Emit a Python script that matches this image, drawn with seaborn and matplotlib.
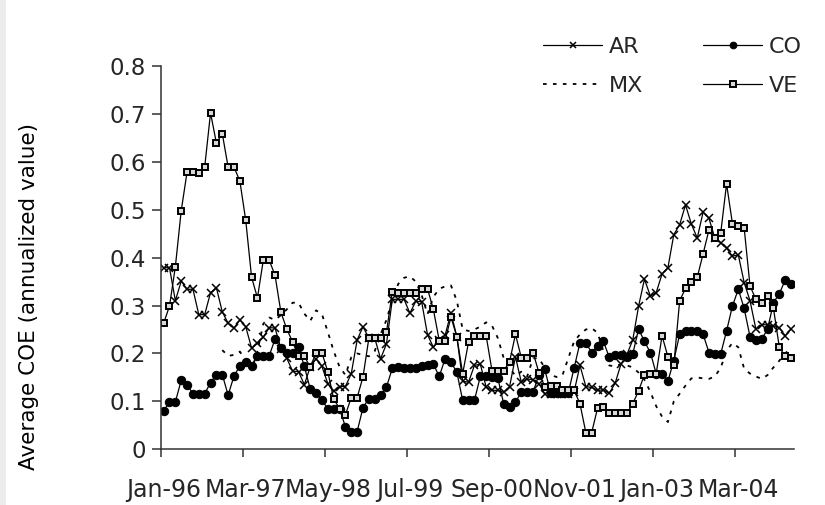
import numpy as np
import pandas as pd
import matplotlib
matplotlib.use("Agg")
import matplotlib.pyplot as plt
import seaborn as sns
from matplotlib.patches import Rectangle

# ---- data (monthly, Jan-96 .. Dec-04) ----
tick_labels = ["Jan-96", "Mar-97", "May-98", "Jul-99", "Sep-00", "Nov-01", "Jan-03", "Mar-04"]

AR = [0.379, 0.379, 0.310, 0.351, 0.334, 0.334, 0.281, 0.281, 0.327, 0.337,
      0.287, 0.263, 0.253, 0.270, 0.256, 0.211, 0.221, 0.234, 0.254, 0.253,
      0.210, 0.190, 0.163, 0.162, 0.135, 0.172, 0.189, 0.173, 0.137, 0.121,
      0.131, 0.131, 0.158, 0.228, 0.256, 0.232, 0.232, 0.189, 0.220, 0.313,
      0.313, 0.313, 0.284, 0.309, 0.308, 0.239, 0.213, 0.228, 0.238, 0.285,
      0.235, 0.142, 0.140, 0.175, 0.178, 0.130, 0.123, 0.123, 0.119, 0.131,
      0.193, 0.140, 0.147, 0.145, 0.137, 0.116, 0.116, 0.116, 0.116, 0.116,
      0.120, 0.175, 0.131, 0.129, 0.123, 0.124, 0.117, 0.138, 0.178, 0.198,
      0.228, 0.299, 0.355, 0.320, 0.327, 0.366, 0.379, 0.448, 0.469, 0.510,
      0.470, 0.441, 0.495, 0.482, 0.441, 0.431, 0.420, 0.403, 0.406, 0.348,
      0.310, 0.251, 0.260, 0.260, 0.258, 0.254, 0.237, 0.251]

CO = [0.080, 0.099, 0.099, 0.144, 0.135, 0.116, 0.116, 0.116, 0.139, 0.156,
      0.156, 0.113, 0.153, 0.174, 0.182, 0.174, 0.195, 0.195, 0.195, 0.230,
      0.211, 0.200, 0.200, 0.213, 0.173, 0.126, 0.118, 0.102, 0.085, 0.085,
      0.085, 0.047, 0.037, 0.037, 0.087, 0.106, 0.106, 0.113, 0.130, 0.169,
      0.172, 0.169, 0.169, 0.170, 0.173, 0.176, 0.178, 0.152, 0.189, 0.182,
      0.161, 0.102, 0.102, 0.102, 0.152, 0.152, 0.150, 0.148, 0.095, 0.088,
      0.099, 0.119, 0.119, 0.119, 0.156, 0.167, 0.118, 0.117, 0.117, 0.117,
      0.170, 0.222, 0.222, 0.202, 0.216, 0.225, 0.192, 0.196, 0.196, 0.192,
      0.199, 0.251, 0.225, 0.202, 0.158, 0.158, 0.142, 0.185, 0.240, 0.246,
      0.247, 0.247, 0.240, 0.202, 0.199, 0.199, 0.247, 0.299, 0.334, 0.294,
      0.235, 0.228, 0.230, 0.251, 0.306, 0.325, 0.353, 0.345]

MX = [None] * 10 + [
      0.207, 0.195, 0.197, 0.204, 0.185, 0.165, 0.205, 0.262, 0.275, 0.270,
      0.280, 0.292, 0.306, 0.306, 0.283, 0.268, 0.290, 0.282, 0.245, 0.205,
      0.172, 0.155, 0.192, 0.200, 0.197, 0.194, 0.205, 0.240, 0.270, 0.312,
      0.345, 0.358, 0.361, 0.350, 0.322, 0.282, 0.318, 0.335, 0.340, 0.342,
      0.310, 0.250, 0.247, 0.250, 0.256, 0.265, 0.258, 0.232, 0.190, 0.170,
      0.153, 0.162, 0.152, 0.190, 0.190, 0.170, 0.155, 0.151, 0.154, 0.190,
      0.225, 0.240, 0.250, 0.253, 0.243, 0.205, 0.175, 0.173, 0.178, 0.175,
      0.171, 0.160, 0.145, 0.120, 0.090, 0.068, 0.057, 0.100, 0.116, 0.133,
      0.148, 0.150, 0.148, 0.147, 0.152, 0.170, 0.206, 0.222, 0.213, 0.168,
      0.158, 0.152, 0.147, 0.155, 0.171, 0.185, 0.200, 0.212]

VE = [0.263, 0.299, 0.381, 0.498, 0.579, 0.579, 0.576, 0.589, 0.702, 0.639,
      0.659, 0.589, 0.589, 0.560, 0.478, 0.359, 0.316, 0.395, 0.395, 0.363,
      0.286, 0.251, 0.224, 0.194, 0.194, 0.172, 0.201, 0.201, 0.162, 0.105,
      0.085, 0.072, 0.108, 0.108, 0.151, 0.232, 0.232, 0.232, 0.244, 0.329,
      0.326, 0.326, 0.326, 0.326, 0.335, 0.335, 0.292, 0.227, 0.227, 0.276,
      0.235, 0.158, 0.224, 0.237, 0.237, 0.237, 0.164, 0.164, 0.164, 0.183,
      0.240, 0.191, 0.191, 0.202, 0.160, 0.131, 0.133, 0.133, 0.123, 0.123,
      0.123, 0.095, 0.035, 0.035, 0.086, 0.088, 0.075, 0.075, 0.075, 0.075,
      0.095, 0.122, 0.156, 0.158, 0.158, 0.237, 0.193, 0.175, 0.310, 0.336,
      0.349, 0.359, 0.408, 0.458, 0.441, 0.451, 0.554, 0.471, 0.467, 0.462,
      0.341, 0.313, 0.306, 0.320, 0.294, 0.213, 0.194, 0.190]

n = len(AR)
pos = np.arange(n)
df = pd.DataFrame({"pos": pos, "AR": AR, "CO": CO,
                   "MX": pd.to_numeric(pd.Series(MX), errors="coerce"), "VE": VE})

sns.set_theme(style="white")
plt.rcParams["font.family"] = ["DejaVu Sans"]

fig = plt.figure(figsize=(8.25, 5.05), dpi=100)
ax = fig.add_axes([160.7 / 825, 1 - 449.3 / 505, (794 - 160.7) / 825, (449.3 - 66) / 505])

fig.patches.append(Rectangle((0, 0.0), 6 / 825, 1.0, transform=fig.transFigure,
                             facecolor="#ececec", edgecolor="none", zorder=0))

lw = 0.9
sns.lineplot(data=df, x="pos", y="AR", ax=ax, color="black", lw=lw, marker="x",
             markersize=6, markeredgewidth=1.1, markeredgecolor="black", label="AR")
sns.lineplot(data=df, x="pos", y="CO", ax=ax, color="black", lw=lw, marker="o",
             markersize=6, markeredgecolor="black", markerfacecolor="black", label="CO")
sns.lineplot(data=df, x="pos", y="MX", ax=ax, color="black", lw=1.3,
             linestyle=(0, (2, 3.5)), label="MX")
sns.lineplot(data=df, x="pos", y="VE", ax=ax, color="black", lw=lw, marker="s",
             markersize=4.6, markeredgewidth=1.4, markeredgecolor="black",
             markerfacecolor="#d8d8d8", label="VE")

ax.set_xlim(-0.5, n - 0.5)
ax.set_ylim(0, 0.8)
ax.set_yticks(np.arange(0, 0.81, 0.1))
ax.set_yticklabels(["0", "0.1", "0.2", "0.3", "0.4", "0.5", "0.6", "0.7", "0.8"])
major = [14 * k - 0.5 for k in range(len(tick_labels))]
ax.set_xticks(major)
ax.set_xticklabels([])
ax.set_xticks([14 * k for k in range(len(tick_labels))], minor=True)
ax.set_xticklabels(tick_labels, minor=True)
ax.tick_params(axis="x", which="major", direction="out", length=6, width=1.1,
               color="#333333", bottom=True)
ax.tick_params(axis="x", which="minor", length=0, pad=21, labelsize=17, bottom=True)
ax.tick_params(axis="y", direction="out", length=6.5, width=1.1, color="#333333",
               pad=4, labelsize=16.5, left=True)
ax.set_xlabel("")
ax.set_ylabel("")
for s in ["top", "right"]:
    ax.spines[s].set_visible(False)
for s in ["left", "bottom"]:
    ax.spines[s].set_color("#333333")
    ax.spines[s].set_linewidth(1.1)

fig.text(29 / 825, 1 - 296 / 505, "Average COE (annualized value)", rotation=90,
         ha="center", va="center", fontsize=15.5, color="black")

handles, labels = ax.get_legend_handles_labels()
order = [labels.index(l) for l in ["AR", "MX", "CO", "VE"]]
leg = ax.legend([handles[i] for i in order], [labels[i] for i in order], ncol=2,
                loc="upper left", bbox_to_anchor=(543 / 825, 1 - 37 / 505),
                bbox_transform=fig.transFigure, frameon=False, fontsize=16,
                handlelength=2.66, handletextpad=0.3, columnspacing=2.7,
                labelspacing=0.85, borderpad=0, borderaxespad=0, markerscale=0.8)

fig.savefig("out.png", dpi=100)
